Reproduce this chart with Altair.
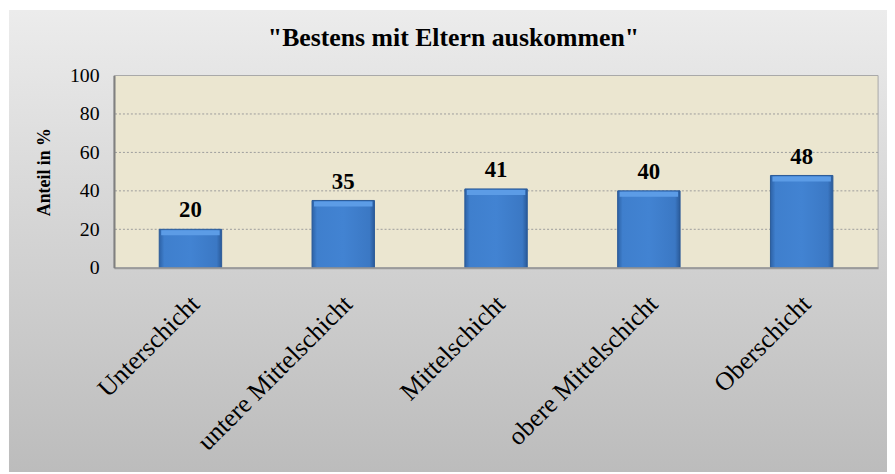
import altair as alt
import pandas as pd

# ---- data ----
categories = ["Unterschicht", "untere Mittelschicht", "Mittelschicht",
              "obere Mittelschicht", "Oberschicht"]
values = [20, 35, 41, 40, 48]
grid_values = [20, 40, 60, 80]
y_ticks = [0, 20, 40, 60, 80, 100]
title_text = '"Bestens mit Eltern auskommen"'
y_title = "Anteil in %"

df = pd.DataFrame({"Schicht": categories, "Anteil": values})
grid_df = pd.DataFrame({"Anteil": grid_values})
one = pd.DataFrame({"k": [0]})

W, H = 771, 194
PAD_L, PAD_T, PAD_R, PAD_B = 107, 66, 9, 206
FONT = "Liberation Serif"

panel_grad = alt.LinearGradient(
    gradient="linear",
    stops=[alt.GradientStop(color="#ececec", offset=0),
           alt.GradientStop(color="#d3d3d3", offset=0.5),
           alt.GradientStop(color="#bcbcbc", offset=1)],
    x1=0, x2=0, y1=0, y2=1)

bar_grad = alt.LinearGradient(
    gradient="linear",
    stops=[alt.GradientStop(color="#2d62a6", offset=0),
           alt.GradientStop(color="#3f7fcd", offset=0.08),
           alt.GradientStop(color="#4283d2", offset=0.5),
           alt.GradientStop(color="#3b78c4", offset=0.92),
           alt.GradientStop(color="#2a5a99", offset=1)],
    x1=0, x2=1, y1=0, y2=0)

y_scale = alt.Scale(domain=[0, 100])
x_scale = alt.Scale(paddingInner=0, paddingOuter=0)

y_axis = alt.Axis(values=y_ticks, title=y_title, grid=False, ticks=False,
                  domainColor="#808080", domainWidth=2,
                  labelFont=FONT, labelFontSize=20, labelColor="black",
                  labelPadding=15,
                  titleFont=FONT, titleFontSize=18, titleFontWeight="bold",
                  titleColor="black", titleX=-70, titleY=H / 2,
                  titleAlign="center", titleBaseline="middle", zindex=1)

x_axis = alt.Axis(title=None, labelAngle=-45, labelAlign="right",
                  labelBaseline="middle", ticks=False, labelLimit=500,
                  domainColor="#9a9a9a", domainWidth=2,
                  labelFont=FONT, labelFontSize=26, labelColor="black",
                  labelPadding=32, labelOffset=5, zindex=1)

x_enc = alt.X("Schicht:N", sort=categories, scale=x_scale, axis=x_axis)
y_enc = alt.Y("Anteil:Q", scale=y_scale, axis=y_axis)

panel = alt.Chart(one).mark_rect(fill=panel_grad).encode(
    x=alt.value(-PAD_L + 1), x2=alt.value(W + PAD_R),
    y=alt.value(-PAD_T), y2=alt.value(H + PAD_B))

plotbg = alt.Chart(one).mark_rect(fill="#ebe6d0", stroke="#a8a8a8",
                                  strokeWidth=1).encode(
    x=alt.value(0), x2=alt.value(W), y=alt.value(0), y2=alt.value(H))

grid = alt.Chart(grid_df).mark_rule(color="#9c9c9c", strokeDash=[2, 2],
                                    strokeWidth=1).encode(y=y_enc)

bars = alt.Chart(df).mark_bar(size=63, fill=bar_grad, stroke="#2a5a98",
                              strokeWidth=1).encode(x=x_enc, y=y_enc)

bevel = alt.Chart(df).mark_tick(size=59, thickness=5, yOffset=3.5,
                                color="#5c9ce6", opacity=1).encode(
    x=x_enc, y=y_enc)

labels = alt.Chart(df).mark_text(font=FONT, fontSize=23, fontWeight="bold",
                                 baseline="alphabetic", dy=-12,
                                 color="black").encode(
    x=x_enc, y=y_enc, text="Anteil:Q")

chart = alt.layer(panel, plotbg, grid, bars, bevel, labels).properties(
    width=W, height=H,
    autosize=alt.AutoSizeParams(type="none"),
    padding={"left": PAD_L, "top": PAD_T, "right": PAD_R, "bottom": PAD_B},
    title=alt.TitleParams(text=title_text, font=FONT, fontSize=26,
                          fontWeight="bold", color="black", anchor="middle",
                          frame="group", dx=-43, offset=-62,
                          baseline="alphabetic"),
    background="white",
).configure_view(stroke=None)

chart.save("out.html", embed_options={"renderer": "svg", "actions": False})
